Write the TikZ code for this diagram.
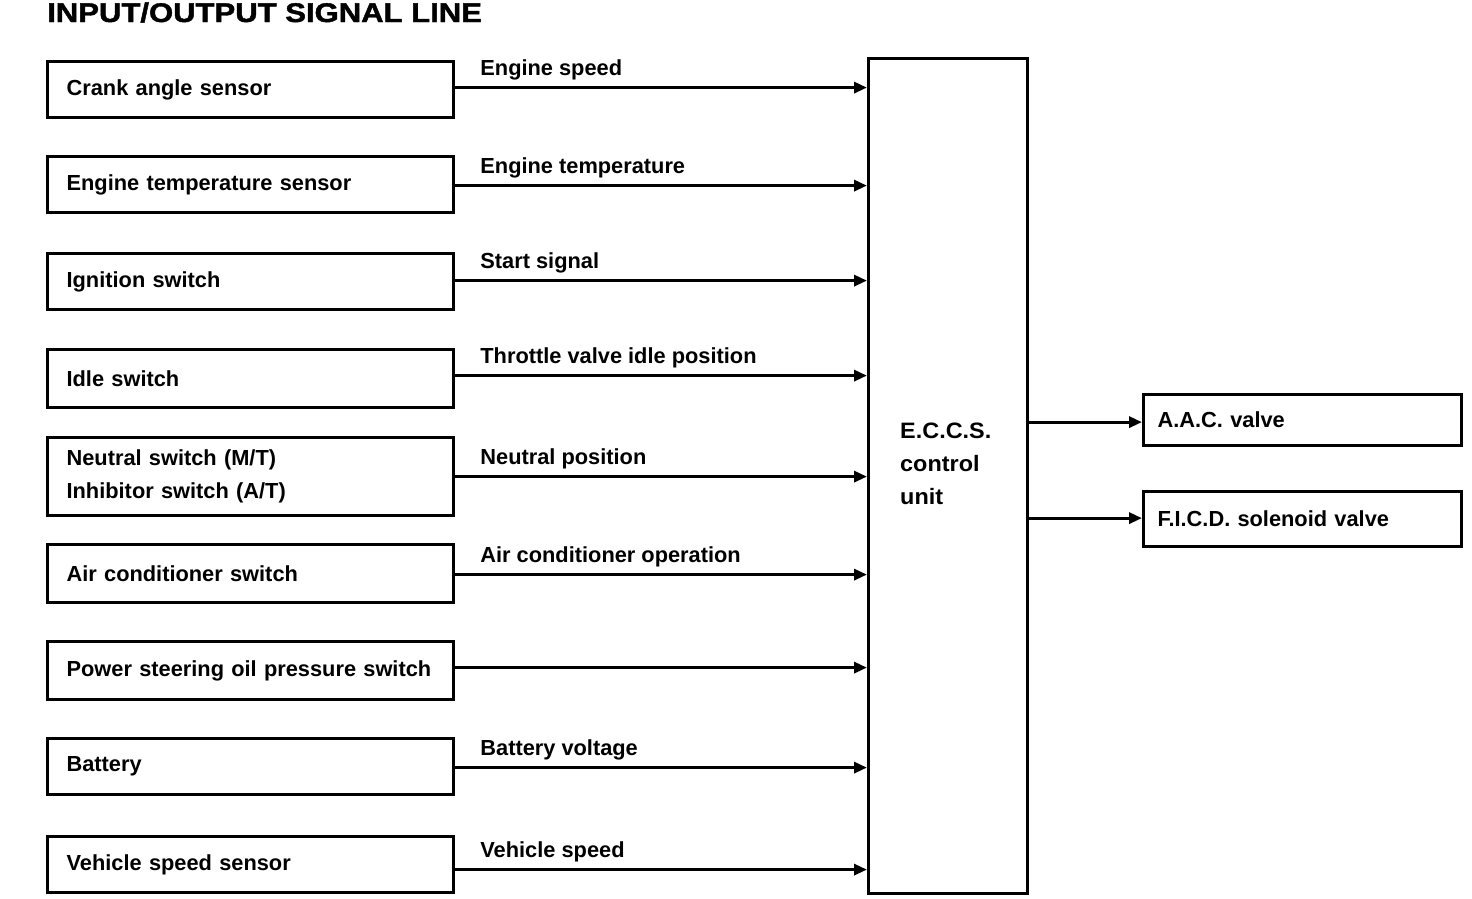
\documentclass[tikz,border=0pt]{standalone}
\usepackage{fontspec}
\setmainfont{Liberation Sans}
\newfontfamily\heavy[BoldFont=Liberation Sans Bold,BoldFeatures={FakeBold=1.5}]{Liberation Sans}
\usetikzlibrary{arrows.meta}
\begin{document}
\begin{tikzpicture}[x=1pt,y=-1pt,
  every node/.style={font=\fontsize{21.8}{33}\selectfont\bfseries},
  inbox/.style={draw,line width=3.2pt,anchor=north west,minimum width=406pt,text width=368pt,inner xsep=19pt,align=left},
  outbox/.style={draw,line width=3.2pt,anchor=north west,minimum width=318pt,text width=290pt,inner xsep=14pt,align=left},
  sig/.style={line width=3.2pt,-{Triangle[length=13pt,width=11pt]}},
  lbl/.style={anchor=base west,inner sep=0pt}]
\useasboundingbox (0,0) rectangle (1472,898);
\node[anchor=base west,inner sep=0pt,font=\heavy\fontsize{27}{30}\selectfont\bfseries,xscale=1.15] (title) at (47,22) {INPUT/OUTPUT SIGNAL LINE};
\node[draw,line width=3.2pt,anchor=north west,minimum width=159pt,minimum height=835pt] (ecu) at (867,57) {};
\node[anchor=north west,align=left,inner sep=0pt,font=\fontsize{22.3}{33}\selectfont\bfseries,xscale=1.05] (ecut) at (900,423) {E.C.C.S.\\control\\unit};
\node[inbox,minimum height=56pt] (b1) at (46,60) {Crank angle sensor};
\node[inbox,minimum height=56pt] (b2) at (46,155) {Engine temperature sensor};
\node[inbox,minimum height=56pt] (b3) at (46,252) {Ignition switch};
\node[inbox,minimum height=58pt] (b4) at (46,348) {Idle switch};
\node[inbox,minimum height=78pt] (b5) at (46,436) {Neutral switch (M/T)\\Inhibitor switch (A/T)};
\node[inbox,minimum height=58pt] (b6) at (46,543) {Air conditioner switch};
\node[inbox,minimum height=58pt] (b7) at (46,640) {\mbox{Power steering oil pressure switch}};
\node[inbox,minimum height=56pt] (b8) at (46,737) {Battery};
\node[inbox,minimum height=56pt] (b9) at (46,835) {Vehicle speed sensor};
\node[outbox,minimum height=51pt] (aac) at (1142,393) {A.A.C. valve};
\node[outbox,minimum height=55pt] (ficd) at (1142,490) {F.I.C.D. solenoid valve};
\foreach \b/\t/\d in {b1/Engine speed/-2,b2/Engine temperature/1,b3/Start signal/-1,b4/Throttle valve idle position/-3,b5/Neutral position/0,b6/Air conditioner operation/1,b7//-3,b8/Battery voltage/1,b9/Vehicle speed/5}{
  \draw[sig] ([shift={(0,\d)}]\b.east) -- ([shift={(0,\d)}]\b.east -| ecu.west);
  \node[lbl] (\b l) at ([shift={(25,\d-12)}]\b.east) {\t};
}
\draw[sig] ([shift={(0,2)}]aac.west -| ecu.east) -- ([shift={(0,2)}]aac.west);
\draw[sig] ([shift={(0,-1)}]ficd.west -| ecu.east) -- ([shift={(0,-1)}]ficd.west);
\end{tikzpicture}
\end{document}
